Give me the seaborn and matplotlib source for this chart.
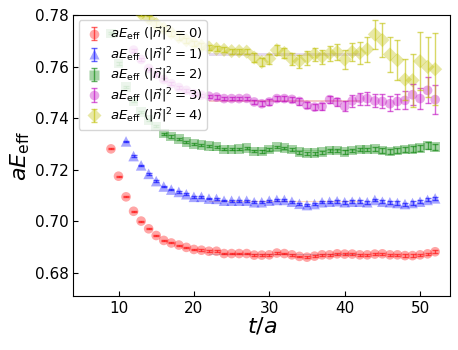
import numpy as np
import matplotlib.pyplot as plt
import seaborn as sns
from matplotlib.colors import to_rgba
from matplotlib.legend_handler import HandlerTuple
from matplotlib.lines import Line2D

# effective energies for |n|^2 = 0..4
t0 = list(range(9, 53))
E0 = [0.7281, 0.7175, 0.7095, 0.7039, 0.7001, 0.6971, 0.6945, 0.6926, 0.6916, 0.6908,
      0.6899, 0.6891, 0.6888, 0.6884, 0.6884, 0.6875, 0.6875, 0.6875, 0.6875, 0.6869,
      0.6869, 0.6870, 0.6877, 0.6875, 0.6870, 0.6864, 0.6861, 0.6865, 0.6870, 0.6870,
      0.6874, 0.6873, 0.6873, 0.6870, 0.6870, 0.6873, 0.6874, 0.6870, 0.6870, 0.6867,
      0.6867, 0.6870, 0.6874, 0.6882]
dE0 = [0.0002, 0.0002, 0.0002, 0.0002, 0.0002, 0.0002, 0.0002, 0.0002, 0.0002, 0.0002,
       0.0003, 0.0003, 0.0003, 0.0003, 0.0003, 0.0003, 0.0003, 0.0003, 0.0003, 0.0003,
       0.0003, 0.0003, 0.0003, 0.0003, 0.0003, 0.0003, 0.0003, 0.0004, 0.0004, 0.0004,
       0.0004, 0.0004, 0.0004, 0.0004, 0.0004, 0.0004, 0.0005, 0.0005, 0.0005, 0.0005,
       0.0005, 0.0005, 0.0005, 0.0005]

t1 = list(range(11, 53))
E1 = [0.7310, 0.7253, 0.7217, 0.7184, 0.7156, 0.7135, 0.7123, 0.7114, 0.7105, 0.7095,
      0.7095, 0.7088, 0.7087, 0.7080, 0.7080, 0.7080, 0.7080, 0.7074, 0.7074, 0.7080,
      0.7083, 0.7083, 0.7076, 0.7068, 0.7063, 0.7067, 0.7074, 0.7076, 0.7078, 0.7074,
      0.7076, 0.7076, 0.7074, 0.7083, 0.7076, 0.7074, 0.7071, 0.7067, 0.7071, 0.7076,
      0.7083, 0.7089]
dE1 = [0.0003] * 14 + [0.0004] * 14 + [0.0005] * 8 + [0.0006] * 6

t2 = list(range(9, 53))
E2 = [0.7729, 0.7612, 0.7521, 0.7465, 0.7424, 0.7393, 0.7368, 0.7340, 0.7329, 0.7320,
      0.7307, 0.7301, 0.7297, 0.7292, 0.7290, 0.7279, 0.7279, 0.7281, 0.7284, 0.7271,
      0.7271, 0.7278, 0.7288, 0.7284, 0.7278, 0.7268, 0.7264, 0.7264, 0.7268, 0.7275,
      0.7275, 0.7268, 0.7275, 0.7278, 0.7278, 0.7281, 0.7275, 0.7271, 0.7275, 0.7278,
      0.7281, 0.7284, 0.7294, 0.7288]
dE2 = [0.0004] * 20 + [0.0005] * 10 + [0.0007] * 6 + [0.0009] * 4 + [0.0011, 0.0012, 0.0014, 0.0013]

t3 = list(range(12, 53))
E3 = [0.7664, 0.7628, 0.7593, 0.7570, 0.7550, 0.7534, 0.7519, 0.7508, 0.7495, 0.7489,
      0.7485, 0.7482, 0.7476, 0.7476, 0.7476, 0.7477, 0.7463, 0.7456, 0.7463, 0.7476,
      0.7476, 0.7473, 0.7465, 0.7450, 0.7443, 0.7446, 0.7472, 0.7463, 0.7446, 0.7467,
      0.7476, 0.7476, 0.7467, 0.7465, 0.7456, 0.7465, 0.7469, 0.7491, 0.7476, 0.7508,
      0.7472]
dE3 = [0.0006] * 16 + [0.0009, 0.0009, 0.0010, 0.0010, 0.0011, 0.0011, 0.0012, 0.0012,
                       0.0013, 0.0013, 0.0015, 0.0017, 0.0020, 0.0023, 0.0023, 0.0024,
                       0.0025, 0.0027, 0.0029, 0.0030, 0.0035, 0.0040, 0.0042, 0.0050,
                       0.0057]

t4 = list(range(13, 53))
E4 = [0.7805, 0.7787, 0.7765, 0.7748, 0.7730, 0.7715, 0.7702, 0.7690, 0.7680, 0.7674,
      0.7669, 0.7665, 0.7660, 0.7660, 0.7658, 0.7635, 0.7618, 0.7631, 0.7664, 0.7653,
      0.7629, 0.7621, 0.7635, 0.7648, 0.7638, 0.7651, 0.7657, 0.7628, 0.7657, 0.7653,
      0.7667, 0.7725, 0.7703, 0.7647, 0.7625, 0.7550, 0.7547, 0.7621, 0.7599, 0.7590]
dE4 = [0.0010] * 15 + [0.0016, 0.0016, 0.0019, 0.0020, 0.0021, 0.0023, 0.0025, 0.0027,
                       0.0026, 0.0028, 0.0029, 0.0032, 0.0038, 0.0036, 0.0042, 0.0049,
                       0.0055, 0.0065, 0.0068, 0.0078, 0.0080, 0.0102, 0.0112, 0.0115,
                       0.0140]

# fit results (value, error, t range)
fit_E = [0.6870, 0.7077, 0.7275, 0.7468, 0.7648]
fit_dE = [0.0002, 0.0002, 0.0003, 0.0004, 0.0005]
fit_t = [(22, 42), (22, 42), (22, 42), (22, 42), (22, 42)]

series = [(t0, E0, dE0), (t1, E1, dE1), (t2, E2, dE2), (t3, E3, dE3), (t4, E4, dE4)]
colors = ['r', 'b', 'g', 'm', 'y']
markers = ['o', '^', 's', 'o', 'D']
sizes = [48, 58, 48, 48, 52]

sns.set_style("ticks", {"xtick.direction": "in", "ytick.direction": "in",
                        "axes.edgecolor": "black", "text.color": "black",
                        "axes.labelcolor": "black", "xtick.color": "black",
                        "ytick.color": "black"})
plt.rcParams['mathtext.fontset'] = 'dejavusans'

fig, ax = plt.subplots(figsize=(4.58, 3.5), dpi=100)

handles = []
for i, (t, E, dE) in enumerate(series):
    c = colors[i]
    sns.scatterplot(x=t, y=E, ax=ax, marker=markers[i], s=sizes[i],
                    color=to_rgba(c, 0.35), edgecolor='none', zorder=3, legend=False)
    eb = ax.errorbar(t, E, yerr=dE, fmt='none', ecolor=to_rgba(c, 0.6),
                     elinewidth=1, capsize=2, capthick=1, zorder=4)
    proxy = Line2D([], [], ls='none', marker=markers[i], markersize=np.sqrt(sizes[i]),
                   mfc=to_rgba(c, 0.35), mec='none')
    handles.append((proxy, eb))

    lo, hi = fit_t[i]
    tt = np.array([lo, hi])
    ax.fill_between(tt, fit_E[i] - fit_dE[i], fit_E[i] + fit_dE[i],
                    color=f'C{i}', alpha=0.25, lw=0, zorder=2)

labels = [rf'$aE_{{\rm eff}}$ ($|\vec{{n}}|^2={k}$)' for k in range(5)]
ax.legend(handles, labels, handler_map={tuple: HandlerTuple(ndivide=1)},
          loc='upper left', fontsize=9.5, handletextpad=0.4, handlelength=1.6,
          borderpad=0.35, labelspacing=0.15, borderaxespad=0.4)

ax.set_xlim(4, 54)
ax.set_ylim(0.671, 0.78)
ax.set_yticks([0.68, 0.70, 0.72, 0.74, 0.76, 0.78])
ax.set_xticks([10, 20, 30, 40, 50])
ax.tick_params(labelsize=11)
ax.set_xlabel(r'$t/a$', fontsize=16, labelpad=0)
ax.set_ylabel(r'$aE_{\rm eff}$', fontsize=16, labelpad=2)

fig.subplots_adjust(left=0.16, right=0.983, top=0.957, bottom=0.154)
fig.savefig('out.png', dpi=100)
